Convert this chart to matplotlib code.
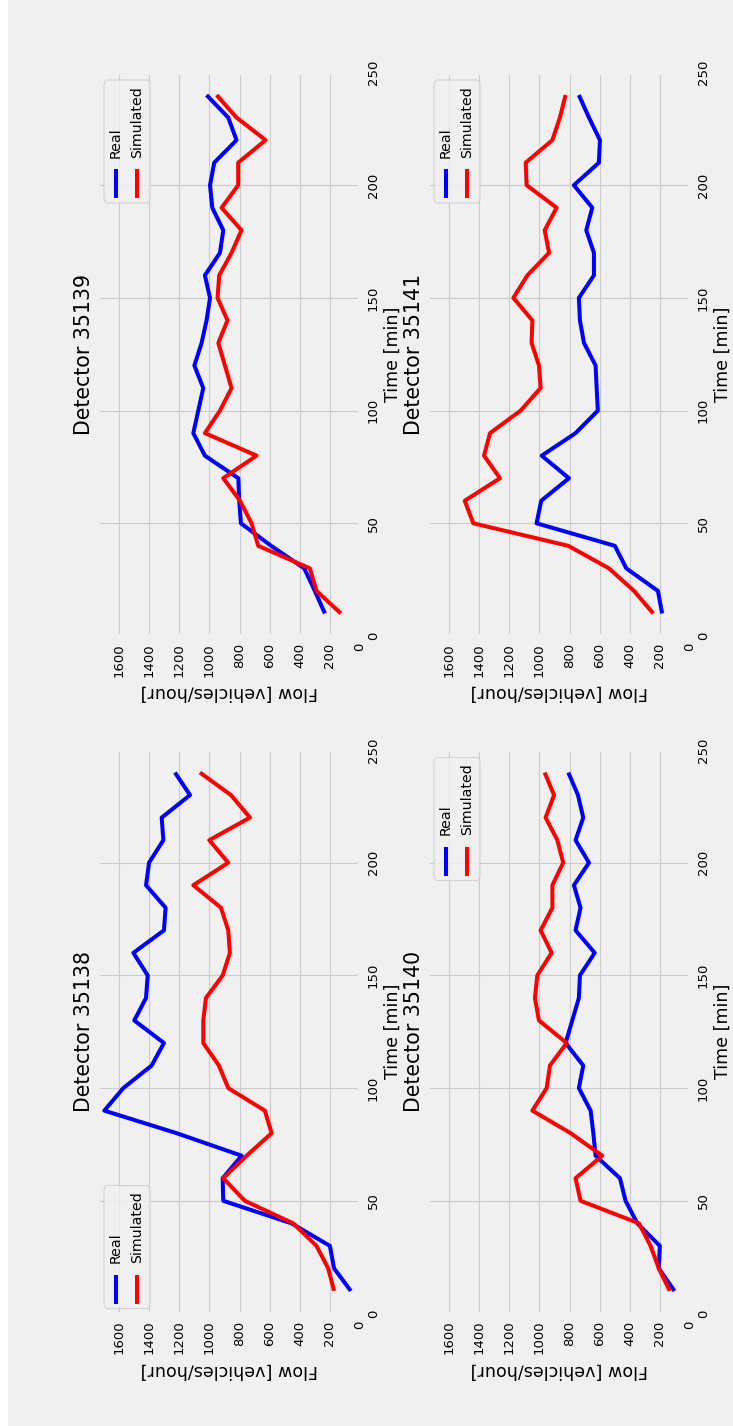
import matplotlib
matplotlib.use('Agg')
import matplotlib.pyplot as plt
from matplotlib.patches import FancyBboxPatch, Rectangle
from matplotlib.lines import Line2D

plt.style.use('fivethirtyeight')

# sample times (min)
times = [10, 20, 30, 40, 50, 60, 70, 80, 90, 100, 110, 120,
         130, 140, 150, 160, 170, 180, 190, 200, 210, 220, 230, 240]

real_35138 = [61, 172, 200, 455, 908, 912, 786, 1218, 1698, 1572, 1384, 1302,
              1499, 1421, 1410, 1505, 1302, 1291, 1421, 1401, 1306, 1317, 1129, 1229]
sim_35138 = [172, 211, 289, 444, 765, 908, 753, 587, 632, 875, 937, 1041,
             1041, 1023, 912, 864, 875, 923, 1107, 875, 1001, 731, 857, 1063]

real_35139 = [233, 300, 370, 590, 791, 802, 808, 1030, 1107, 1074, 1041, 1100,
              1052, 1019, 996, 1030, 930, 908, 981, 996, 968, 820, 875, 1019]
sim_35139 = [127, 289, 333, 676, 720, 797, 908, 687, 1030, 930, 853, 897,
             941, 880, 946, 935, 853, 787, 919, 809, 809, 627, 820, 952]

real_35140 = [103, 207, 200, 350, 428, 465, 627, 642, 660, 738, 709, 826,
              782, 738, 731, 633, 760, 727, 771, 671, 760, 709, 744, 808]
sim_35140 = [134, 207, 262, 339, 727, 760, 583, 793, 1047, 952, 930, 819,
             1003, 1030, 1014, 919, 992, 914, 914, 842, 881, 959, 903, 965]

real_35141 = [185, 213, 423, 499, 1019, 988, 804, 985, 760, 612, 620, 627,
              704, 731, 738, 638, 638, 689, 649, 771, 605, 598, 671, 738]
sim_35141 = [244, 372, 538, 808, 1439, 1496, 1262, 1368, 1328, 1125, 992, 1003,
             1052, 1047, 1173, 1080, 936, 965, 886, 1085, 1091, 914, 864, 826]

flow_ticks = [0, 200, 400, 600, 800, 1000, 1200, 1400, 1600]
time_ticks = [0, 50, 100, 150, 200, 250]

FIG_W, FIG_H = 733, 1426
AX_W, AX_H = 262, 563.5
LW = 2.9


def Legend(ax, atTop):
    # legend drawn by hand, the whole chart is turned on its side
    fx = 1.0 / AX_W
    fy = 1.0 / AX_H
    if atTop:
        boxBottom = 1 - (7.5 + 123) * fy
    else:
        boxBottom = 5 * fy
    box = FancyBboxPatch((6 * fx, boxBottom), 46 * fx, 123 * fy,
                         boxstyle='round,pad=0,rounding_size=0.012',
                         transform=ax.transAxes, facecolor='#f0f0f0', alpha=0.8,
                         edgecolor='#cccccc', linewidth=0.8, zorder=5, clip_on=False)
    ax.add_patch(box)
    for xc, color, name in [(17.5, 'blue', 'Real'), (38.8, 'red', 'Simulated')]:
        ax.add_line(Line2D([xc * fx, xc * fx], [boxBottom + 4.7 * fy, boxBottom + 33.7 * fy],
                           transform=ax.transAxes, color=color, linewidth=LW,
                           solid_capstyle='butt', zorder=6))
        ax.text(xc * fx, boxBottom + 45.5 * fy, name, transform=ax.transAxes,
                rotation=90, ha='center', va='bottom', fontsize=10.2,
                color='black', zorder=6)


def Panel(fig, rect, title, real, sim, legendAtTop):
    ax = fig.add_axes(rect)
    ax.plot(real, times, color='blue', linewidth=LW, solid_capstyle='butt')
    ax.plot(sim, times, color='red', linewidth=LW, solid_capstyle='butt')

    ax.set_xlim(1740, 0)
    ax.set_ylim(0, 250)
    ax.set_xticks(flow_ticks)
    ax.set_yticks(time_ticks)
    ax.grid(True, color='#cbcbcb', linewidth=0.8)

    ax.yaxis.tick_right()
    ax.yaxis.set_label_position('right')
    ax.tick_params(axis='x', labelrotation=90, pad=5, labelsize=9.5, colors='black')
    ax.tick_params(axis='y', labelrotation=90, pad=5, labelsize=9.5, colors='black')
    for lab in ax.get_yticklabels():
        lab.set_ha('left')
        lab.set_va('center')

    ax.set_xlabel('Flow [vehicles/hour]', rotation=180, fontsize=12.6, labelpad=5, color='black')
    ax.set_ylabel('Time [min]', fontsize=12.6, labelpad=3, color='black')

    ax.text(-4.0 / AX_W, 0.5, title, transform=ax.transAxes, rotation=90,
            ha='right', va='center', fontsize=14.8, color='black')

    Legend(ax, legendAtTop)
    return ax


fig = plt.figure(figsize=(FIG_W / 100, FIG_H / 100), dpi=100, facecolor='#f0f0f0')
fig.patches.append(Rectangle((0, 0), 8 / FIG_W, 1, transform=fig.transFigure,
                             facecolor='white', edgecolor='none'))

colLeft = [98 / FIG_W, 428 / FIG_W]
rowBottom = [(FIG_H - 636) / FIG_H, (FIG_H - 1313.5) / FIG_H]
w = AX_W / FIG_W
h = AX_H / FIG_H

Panel(fig, [colLeft[0], rowBottom[0], w, h], 'Detector 35139', real_35139, sim_35139, True)
Panel(fig, [colLeft[1], rowBottom[0], w, h], 'Detector 35141', real_35141, sim_35141, True)
Panel(fig, [colLeft[0], rowBottom[1], w, h], 'Detector 35138', real_35138, sim_35138, False)
Panel(fig, [colLeft[1], rowBottom[1], w, h], 'Detector 35140', real_35140, sim_35140, True)

fig.savefig('out.png', dpi=100, facecolor='#f0f0f0')
